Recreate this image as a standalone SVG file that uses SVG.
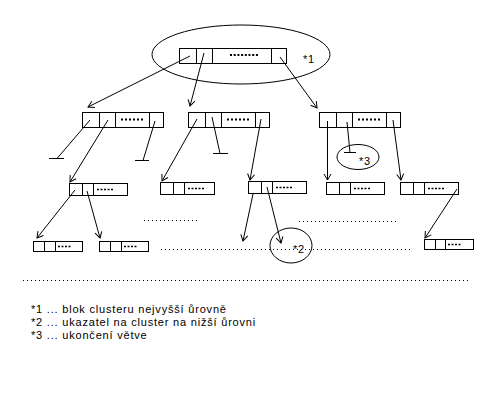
<svg xmlns="http://www.w3.org/2000/svg" width="500" height="400" viewBox="0 0 500 400">
<defs>
<style>
.b{fill:#fff;stroke:#000;stroke-width:1}
.d{stroke:#000;fill:none}
.c{stroke:#000;stroke-width:1;fill:none}
.e{fill:none;stroke:#000;stroke-width:1}
.dl{stroke:#000;stroke-width:1;stroke-dasharray:1 3;fill:none}
.k1{stroke:#000;stroke-width:2;stroke-dasharray:2 1.7}
.k2{stroke:#000;stroke-width:2;stroke-dasharray:2 2}
.k3{stroke:#000;stroke-width:1.5;stroke-dasharray:2 1.5}
text{font-family:"Liberation Sans",Arial,sans-serif;font-size:11px;fill:#000;letter-spacing:0.8px}
</style>
<marker id="ah" markerUnits="userSpaceOnUse" markerWidth="10" markerHeight="10" viewBox="-7 -5 8 10" refX="0" refY="0" orient="auto">
<path d="M-6,-3.5 L0,0 L-6,3.5" fill="none" stroke="#000" stroke-width="1"/>
</marker>
</defs>
<rect width="500" height="400" fill="#fff"/>

<g id="top">
<rect class="b" x="179.5" y="48.5" width="107" height="15"/>
<path class="d" d="M196.5,48.5V63.5M212.5,48.5V63.5M271.5,48.5V63.5"/>
<line class="k1" x1="230" y1="55" x2="258" y2="55"/>
</g>
<g id="cluster1">
<ellipse class="e" cx="241" cy="54.5" rx="89" ry="29.5"/>
<text x="303" y="63">*1</text>
</g>

<g id="l2a">
<rect class="b" x="82.5" y="112.5" width="81" height="15"/>
<path class="d" d="M99.5,112.5V127.5M115.5,112.5V127.5M149.5,112.5V127.5"/>
<line class="k2" x1="121" y1="119.5" x2="143" y2="119.5"/>
</g>
<g id="l2b">
<rect class="b" x="188.5" y="112.5" width="81" height="15"/>
<path class="d" d="M205.5,112.5V127.5M221.5,112.5V127.5M255.5,112.5V127.5"/>
<line class="k2" x1="227" y1="119.5" x2="249" y2="119.5"/>
</g>
<g id="l2c">
<rect class="b" x="319.5" y="112.5" width="81" height="15"/>
<path class="d" d="M336.5,112.5V127.5M352.5,112.5V127.5M386.5,112.5V127.5"/>
<line class="k2" x1="358" y1="119.5" x2="380" y2="119.5"/>
</g>

<g id="l3a">
<rect class="b" x="69.5" y="183.5" width="58" height="12"/>
<path class="d" d="M82.5,183.5V195.5M93.5,183.5V195.5"/>
<line class="k3" x1="97" y1="189.5" x2="113" y2="189.5"/>
</g>
<g id="l3b">
<rect class="b" x="160.5" y="182.5" width="54" height="12"/>
<path class="d" d="M173.5,182.5V194.5M184.5,182.5V194.5"/>
<line class="k3" x1="188" y1="188.5" x2="204" y2="188.5"/>
</g>
<g id="l3c">
<rect class="b" x="248.5" y="181.5" width="58" height="12"/>
<path class="d" d="M261.5,181.5V193.5M272.5,181.5V193.5"/>
<line class="k3" x1="276" y1="187.5" x2="292" y2="187.5"/>
</g>
<g id="l3d">
<rect class="b" x="326.5" y="182.5" width="58" height="12"/>
<path class="d" d="M339.5,182.5V194.5M350.5,182.5V194.5"/>
<line class="k3" x1="354" y1="188.5" x2="370" y2="188.5"/>
</g>
<g id="l3e">
<rect class="b" x="400.5" y="182.5" width="58" height="12"/>
<path class="d" d="M413.5,182.5V194.5M424.5,182.5V194.5"/>
<line class="k3" x1="428" y1="188.5" x2="444" y2="188.5"/>
</g>

<g id="l4a">
<rect class="b" x="33.5" y="241.5" width="49" height="10"/>
<path class="d" d="M44.5,241.5V251.5M55.5,241.5V251.5"/>
<line class="k3" x1="58" y1="246.5" x2="72" y2="246.5"/>
</g>
<g id="l4b">
<rect class="b" x="99.5" y="241.5" width="49" height="10"/>
<path class="d" d="M110.5,241.5V251.5M121.5,241.5V251.5"/>
<line class="k3" x1="124" y1="246.5" x2="138" y2="246.5"/>
</g>
<g id="l4c">
<rect class="b" x="424.5" y="239.5" width="49" height="10"/>
<path class="d" d="M435.5,239.5V249.5M445.5,239.5V249.5"/>
<line class="k3" x1="448" y1="244.5" x2="462" y2="244.5"/>
</g>

<g id="dots">
<line class="dl" x1="144" y1="220.5" x2="197" y2="220.5"/>
<line class="dl" x1="299" y1="221.5" x2="396" y2="221.5"/>
<line class="dl" x1="161" y1="249.5" x2="410" y2="249.5"/>
<line class="dl" x1="23" y1="280.5" x2="468" y2="280.5"/>
</g>

<g id="cluster2">
<ellipse class="e" cx="291" cy="245.5" rx="21" ry="17.5"/>
<text x="293" y="253">*2</text>
</g>
<g id="cluster3">
<ellipse class="e" cx="358" cy="157" rx="21" ry="12.5"/>
<text x="359" y="165">*3</text>
</g>

<g id="connectors">
<line class="c" x1="190" y1="56" x2="88" y2="107" marker-end="url(#ah)"/>
<line class="c" x1="204" y1="53" x2="190" y2="106" marker-end="url(#ah)"/>
<line class="c" x1="280" y1="57" x2="317" y2="108" marker-end="url(#ah)"/>
<line class="c" x1="90" y1="120" x2="57" y2="158.5"/>
<line class="c" x1="49" y1="158.5" x2="64" y2="158.5"/>
<line class="c" x1="108" y1="120" x2="70" y2="182" marker-end="url(#ah)"/>
<line class="c" x1="155" y1="121" x2="143" y2="160.5"/>
<line class="c" x1="135" y1="160.5" x2="149" y2="160.5"/>
<line class="c" x1="197" y1="119" x2="162" y2="181" marker-end="url(#ah)"/>
<line class="c" x1="212" y1="117" x2="220" y2="153.5"/>
<line class="c" x1="213" y1="153.5" x2="228" y2="153.5"/>
<line class="c" x1="261" y1="119" x2="250" y2="180" marker-end="url(#ah)"/>
<line class="c" x1="327.5" y1="121" x2="327.5" y2="180" marker-end="url(#ah)"/>
<line class="c" x1="347" y1="122" x2="350" y2="152.5"/>
<line class="c" x1="344" y1="152.5" x2="356" y2="152.5"/>
<line class="c" x1="393" y1="120" x2="401" y2="180" marker-end="url(#ah)"/>
<line class="c" x1="75" y1="190" x2="37" y2="238" marker-end="url(#ah)"/>
<line class="c" x1="87" y1="191" x2="100" y2="238" marker-end="url(#ah)"/>
<line class="c" x1="253" y1="194" x2="243" y2="241" marker-end="url(#ah)"/>
<line class="c" x1="267" y1="187" x2="281" y2="243" marker-end="url(#ah)"/>
<line class="c" x1="457" y1="189" x2="425" y2="238" marker-end="url(#ah)"/>
</g>

<g id="legend">
<text x="31" y="313">*1 ... blok clusteru nejvyšší ůrovně</text>
<text x="31" y="326">*2 ... ukazatel na cluster na nižší ůrovni</text>
<text x="31" y="339">*3 ... ukončení větve</text>
</g>
</svg>
